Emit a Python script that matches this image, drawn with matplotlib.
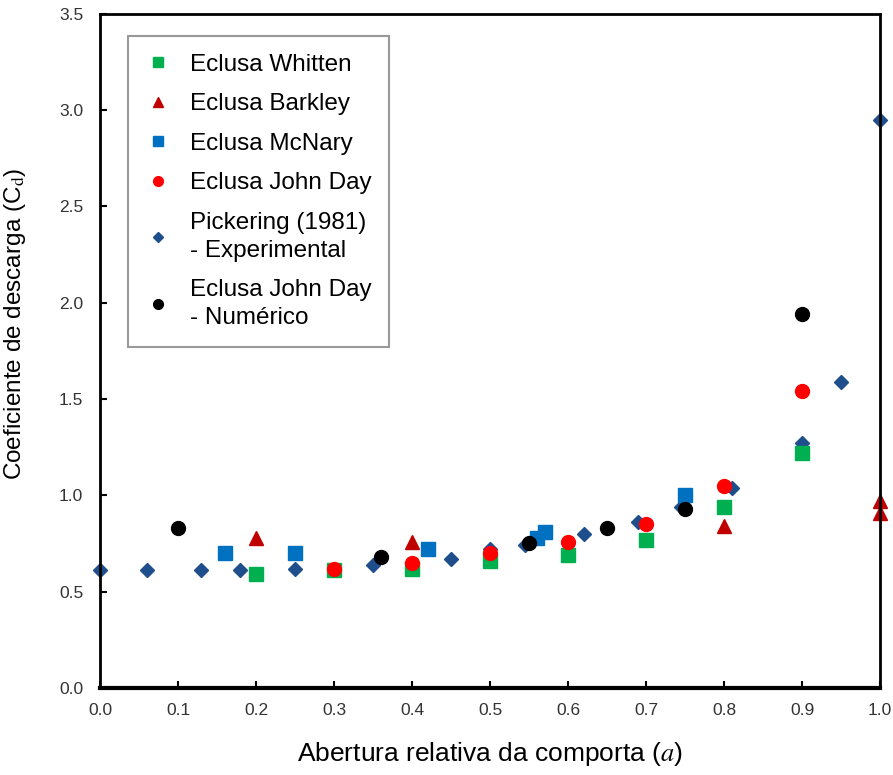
import numpy as np
import matplotlib.pyplot as plt

plt.rcParams['font.family'] = ['Liberation Sans', 'DejaVu Sans']
plt.rcParams['mathtext.fontset'] = 'stix'

# Eclusa Whitten
whitten_x = [0.20, 0.30, 0.40, 0.50, 0.60, 0.70, 0.80, 0.90]
whitten_y = [0.59, 0.61, 0.62, 0.66, 0.69, 0.77, 0.94, 1.22]

# Eclusa Barkley
barkley_x = [0.20, 0.40, 0.80, 1.00, 1.00]
barkley_y = [0.78, 0.76, 0.84, 0.97, 0.91]

# Eclusa McNary
mcnary_x = [0.16, 0.25, 0.42, 0.56, 0.57, 0.75]
mcnary_y = [0.70, 0.70, 0.72, 0.78, 0.81, 1.00]

# Eclusa John Day
johnday_x = [0.30, 0.40, 0.50, 0.60, 0.70, 0.80, 0.90]
johnday_y = [0.62, 0.65, 0.70, 0.76, 0.85, 1.05, 1.54]

# Pickering (1981) - Experimental
pick_x = [0.00, 0.06, 0.13, 0.18, 0.25, 0.35, 0.40, 0.45, 0.50, 0.545,
          0.62, 0.69, 0.745, 0.81, 0.90, 0.95, 1.00]
pick_y = [0.61, 0.61, 0.61, 0.61, 0.62, 0.64, 0.65, 0.67, 0.72, 0.74,
          0.80, 0.86, 0.94, 1.04, 1.27, 1.59, 2.95]

# Eclusa John Day - Numerico
num_x = [0.10, 0.36, 0.55, 0.65, 0.75, 0.90]
num_y = [0.83, 0.68, 0.75, 0.83, 0.93, 1.94]

fig = plt.figure(figsize=(8.93, 7.75), dpi=100)
ax = fig.add_axes([0.112, 0.1123, 0.8735, 0.870])

ms = 9.5
ax.plot(pick_x, pick_y, 'D', color='#1F4E8C', ms=ms * 0.8, ls='none', clip_on=False,
        label='Pickering (1981)\n- Experimental')
ax.plot(whitten_x, whitten_y, 's', color='#00B050', ms=ms, ls='none', clip_on=False,
        label='Eclusa Whitten')
ax.plot(barkley_x, barkley_y, '^', color='#C00000', ms=ms, ls='none', clip_on=False,
        label='Eclusa Barkley')
ax.plot(mcnary_x, mcnary_y, 's', color='#0070C0', ms=ms, ls='none', clip_on=False,
        label='Eclusa McNary')
ax.plot(johnday_x, johnday_y, 'o', color='#FF0000', ms=ms + 0.5, ls='none', clip_on=False,
        label='Eclusa John Day')
ax.plot(num_x, num_y, 'o', color='black', ms=ms + 0.5, ls='none', clip_on=False,
        label='Eclusa John Day\n- Numérico')

ax.set_xlim(0, 1.0)
ax.set_ylim(0, 3.5)
ax.set_xticks(np.arange(0, 1.01, 0.1))
ax.set_yticks(np.arange(0, 3.51, 0.5))
ax.set_xticklabels(['%.1f' % v for v in np.arange(0, 1.01, 0.1)], fontsize=12.5,
                   color='#333333')
ax.set_yticklabels(['%.1f' % v for v in np.arange(0, 3.51, 0.5)], fontsize=12.5,
                   color='#333333')
ax.tick_params(axis='x', direction='in', length=5, width=1.5, pad=11)
ax.tick_params(axis='y', direction='in', length=5, width=1.5, pad=12)

for s in ['left', 'right', 'top']:
    ax.spines[s].set_linewidth(2)
ax.spines['bottom'].set_linewidth(3)

ax.set_xlabel('Abertura relativa da comporta ($a$)', fontsize=19, labelpad=16)
ax.set_ylabel('Coeficiente de descarga (C$_\\mathrm{d}$)', fontsize=17.5)
ax.yaxis.set_label_coords(-0.092, 0.54)

handles, labels = ax.get_legend_handles_labels()
order = [1, 2, 3, 4, 0, 5]
leg = ax.legend([handles[i] for i in order], [labels[i] for i in order],
                loc='upper left', bbox_to_anchor=(0.036, 0.967), borderaxespad=0,
                fontsize=17.5, markerscale=0.7, frameon=True, fancybox=False,
                edgecolor='#808080', handlelength=1.0, handletextpad=0.82,
                labelspacing=0.72, borderpad=0.73)
for t in leg.get_texts():
    t.set_linespacing(1.35)
leg.get_frame().set_linewidth(1.5)

fig.savefig('out.png', dpi=100)
